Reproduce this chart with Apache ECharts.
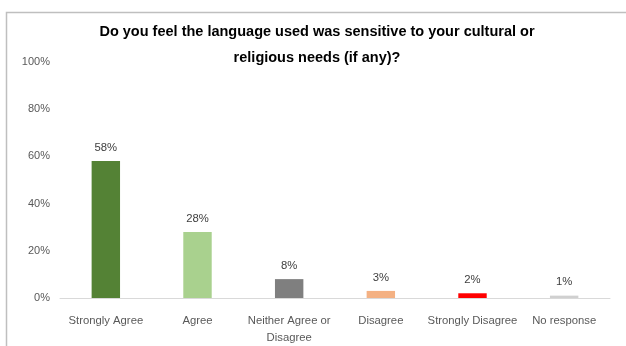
<!DOCTYPE html>
<html>
<head>
<meta charset="utf-8">
<script src="https://cdn.jsdelivr.net/npm/echarts@6/dist/echarts.min.js"></script>
<style>
  html, body { margin: 0; padding: 0; background: #fff; overflow: hidden; }
  #chart { width: 626px; height: 346px; }
</style>
</head>
<body>
<div id="chart"></div>
<script>
// Survey responses: share of respondents per answer
const categories = ['Strongly Agree', 'Agree', 'Neither Agree or Disagree', 'Disagree', 'Strongly Disagree', 'No response'];
const shares = [58, 28, 8, 3, 2, 1];
const barColors = ['#548235', '#A9D18E', '#7F7F7F', '#F4B183', '#FF0000', '#D0D0D0'];
const yTicks = [0, 20, 40, 60, 80, 100];

const titleText = 'Do you feel the language used was sensitive to your cultural or\nreligious needs (if any)?';
const fontFamily = '"Liberation Sans", Arial, sans-serif';

const chart = echarts.init(document.getElementById('chart'), null, { renderer: 'canvas' });

chart.setOption({
  animation: false,
  backgroundColor: '#ffffff',
  title: {
    text: titleText,
    left: 312,
    textAlign: 'center',
    top: 14,
    textStyle: {
      fontFamily: fontFamily,
      fontWeight: 'bold',
      fontSize: 14.5,
      lineHeight: 26,
      color: '#000000'
    }
  },
  graphic: [{
    type: 'polyline',
    shape: { points: [[6.5, 360], [6.5, 12.5], [640, 12.5]] },
    style: { stroke: '#BFBFBF', lineWidth: 1.5, fill: null },
    silent: true
  }],
  grid: { left: 60, right: 16, top: 62, bottom: 42, containLabel: false },
  xAxis: {
    type: 'category',
    data: categories,
    axisLine: { show: true, lineStyle: { color: '#D9D9D9', width: 1 } },
    axisTick: { show: false },
    axisLabel: {
      interval: 0,
      fontFamily: fontFamily,
      fontSize: 11.3,
      color: '#595959',
      lineHeight: 17,
      margin: 14,
      formatter: function (v) {
        return v === 'Neither Agree or Disagree' ? 'Neither Agree or\nDisagree' : v;
      }
    }
  },
  yAxis: {
    type: 'value',
    min: 0,
    max: 100,
    interval: 20,
    splitLine: { show: false },
    axisLine: { show: false },
    axisTick: { show: false },
    axisLabel: {
      fontFamily: fontFamily,
      fontSize: 11,
      color: '#595959',
      margin: 10,
      formatter: function (v) { return yTicks.indexOf(v) >= 0 ? v + '%' : ''; }
    }
  },
  series: [{
    type: 'bar',
    barWidth: '31%',
    data: shares.map(function (v, i) {
      return { value: v, itemStyle: { color: barColors[i] } };
    }),
    label: {
      show: true,
      position: 'top',
      distance: 8,
      fontFamily: fontFamily,
      fontSize: 11.3,
      color: '#404040',
      formatter: '{c}%'
    }
  }]
});
</script>
</body>
</html>
